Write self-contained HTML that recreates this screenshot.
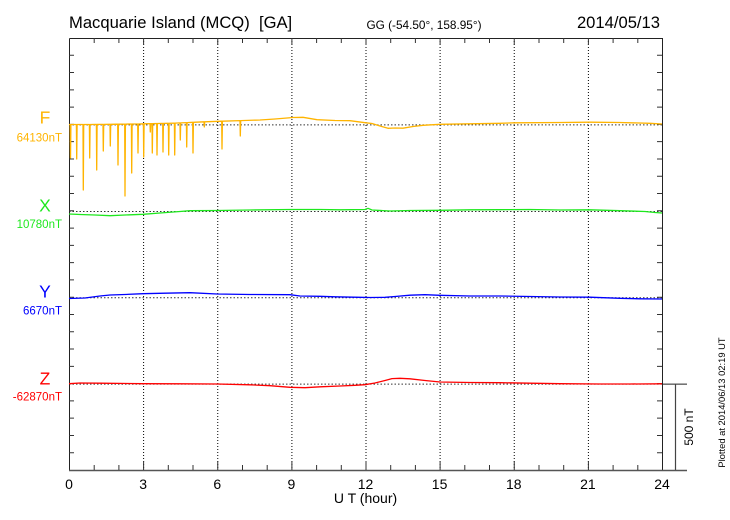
<!DOCTYPE html>
<html><head><meta charset="utf-8"><style>
html,body{margin:0;padding:0;background:#fff;}
svg{display:block;font-family:"Liberation Sans",Arial,sans-serif;}
</style></head><body>
<svg width="730" height="520" viewBox="0 0 730 520" xmlns="http://www.w3.org/2000/svg">
<rect width="730" height="520" fill="#fff"/>
<!-- titles -->
<text x="69" y="28" font-size="16.6" fill="#000">Macquarie Island (MCQ)&#160; [GA]</text>
<text x="424" y="29" font-size="11.8" fill="#000" text-anchor="middle">GG (-54.50°, 158.95°)</text>
<text x="660" y="28" font-size="16.6" fill="#000" text-anchor="end">2014/05/13</text>

<!-- vertical dotted grid -->
<g stroke="#000" stroke-width="1" stroke-dasharray="1,2">
<path d="M143.6,38V470M217.75,38V470M291.9,38V470M366,38V470M440.1,38V470M514.25,38V470M588.4,38V470"/>
</g>
<!-- baseline dotted -->
<g stroke="#333" stroke-width="1" stroke-dasharray="1.5,2">
<path d="M69,124.9H662M69,211.5H662M69,297.7H662M69,384.1H662"/>
</g>

<!-- frame -->
<g stroke="#222" stroke-width="1" fill="none">
<path d="M69.5,38.5H662.5V470.5M69.5,38.5V470.5"/>
</g>
<path d="M69,470.5H687" stroke="#555" stroke-width="1.6"/>
<path d="M662,384.1H687" stroke="#222" stroke-width="1"/>
<path d="M675.5,384V470" stroke="#444" stroke-width="1.2"/>

<!-- y ticks -->
<g stroke="#333" stroke-width="1">
<path d="M69,55.28h5M69,72.56h5M69,89.84h5M69,107.12h5M69,124.4h5M69,141.68h5M69,158.96h5M69,176.24h5M69,193.52h5M69,210.8h5M69,228.08h5M69,245.36h5M69,262.64h5M69,279.92h5M69,297.2h5M69,314.48h5M69,331.76h5M69,349.04h5M69,366.32h5M69,383.6h5M69,400.88h5M69,418.16h5M69,435.44h5M69,452.72h5"/>
<path d="M662,55.28h-5M662,72.56h-5M662,89.84h-5M662,107.12h-5M662,124.4h-5M662,141.68h-5M662,158.96h-5M662,176.24h-5M662,193.52h-5M662,210.8h-5M662,228.08h-5M662,245.36h-5M662,262.64h-5M662,279.92h-5M662,297.2h-5M662,314.48h-5M662,331.76h-5M662,349.04h-5M662,366.32h-5M662,383.6h-5M662,400.88h-5M662,418.16h-5M662,435.44h-5M662,452.72h-5"/>
<!-- top ticks -->
<path d="M94.2,38v5M118.9,38v5M143.6,38v7M168.3,38v5M193,38v5M217.75,38v7M242.5,38v5M267.2,38v5M291.9,38v7M316.6,38v5M341.3,38v5M366,38v7M390.7,38v5M415.4,38v5M440.1,38v7M464.8,38v5M489.5,38v5M514.25,38v7M539,38v5M563.7,38v5M588.4,38v7M613.1,38v5M637.8,38v5"/>
<!-- bottom ticks -->
<path d="M94.2,470v-5M118.9,470v-5M143.6,470v-9M168.3,470v-5M193,470v-5M217.75,470v-9M242.5,470v-5M267.2,470v-5M291.9,470v-9M316.6,470v-5M341.3,470v-5M366,470v-9M390.7,470v-5M415.4,470v-5M440.1,470v-9M464.8,470v-5M489.5,470v-5M514.25,470v-9M539,470v-5M563.7,470v-5M588.4,470v-9M613.1,470v-5M637.8,470v-5"/>
</g>

<!-- x tick labels -->
<g font-size="14" fill="#000" text-anchor="middle">
<text x="69" y="489">0</text>
<text x="143.1" y="489">3</text>
<text x="217.25" y="489">6</text>
<text x="291.4" y="489">9</text>
<text x="365.5" y="489">12</text>
<text x="439.6" y="489">15</text>
<text x="513.75" y="489">18</text>
<text x="587.9" y="489">21</text>
<text x="662" y="489">24</text>
</g>
<text x="365.5" y="503" font-size="14" fill="#000" text-anchor="middle">U T (hour)</text>

<!-- channel labels -->
<g text-anchor="middle" font-size="17.5">
<text x="45" y="123.5" fill="#FFB400">F</text>
<text x="45" y="211.5" fill="#1EE81E">X</text>
<text x="45" y="297.5" fill="#0000FF">Y</text>
<text x="45" y="384.5" fill="#FF0000">Z</text>
</g>
<g text-anchor="end" font-size="11.5">
<text x="62" y="141.5" fill="#FFB400">64130nT</text>
<text x="62" y="228" fill="#1EE81E">10780nT</text>
<text x="62" y="314.5" fill="#0000FF">6670nT</text>
<text x="62" y="400.5" fill="#FF0000">-62870nT</text>
</g>

<!-- F series -->
<path fill="none" stroke="#FFB400" stroke-width="1.3" stroke-linejoin="round" d="M69,124.5 L70.2,124.5 L70.5,158 L70.9,124.5 L76.4,124.5 L76.7,159 L77.1,124.5 L83,124.5 L83.3,190 L83.7,124.5 L89.4,124.5 L89.7,158 L90.1,124.5 L96.4,124.4 L96.7,170 L97.1,124.4 L103,124.4 L103.3,151 L103.7,124.4 L110,124.3 L110.3,146 L110.7,124.3 L117.7,124.2 L118,165 L118.4,124.2 L124.7,124.1 L125,196 L125.4,124.1 L131.4,124 L131.7,173 L132.1,124 L137.7,124 L138,153 L138.4,124 L143.4,123.8 L143.7,157 L144.1,123.8 L150,123.6 L150.3,132 L150.7,123.6 L152,123.6 L152.3,153 L152.7,123.6 L156.7,123.5 L157,155 L157.4,123.5 L162.7,123.4 L163,152 L163.4,123.4 L168.4,123.3 L168.7,155 L169.1,123.3 L174.4,123.1 L174.7,155 L175.1,123.1 L180,122.9 L180.3,140 L180.7,122.9 L186.4,122.6 L186.7,147 L187.1,122.6 L192.7,122.3 L193,153 L193.4,122.3 L204,121.8 L204.3,127 L204.7,121.8 L221.7,121.2 L222,149 L222.4,121.2 L240,120.6 L240.3,136 L240.7,120.6 L260,120 L275,119 L293,117.5 L303,117.3 L317,119.7 L335,120.5 L350,120.7 L365,122.7 L372,123.5 L380,126 L388,128.3 L395,128 L403,128.2 L413,126.5 L423,125.3 L440,124.3 L470,123.8 L500,123.3 L515,122.8 L560,122.5 L590,122.2 L620,122.5 L650,123.3 L662,124"/>

<!-- X series -->
<path fill="none" stroke="#1EE81E" stroke-width="1.3" stroke-linejoin="round" d="M69,214 L80,214.5 L95,215 L110,215.7 L125,215 L143,214.3 L160,213 L180,211.5 L190,210.7 L217,210.5 L250,210 L290,209.5 L320,209.5 L340,209.8 L365,209.5 L368,208.3 L372,210 L390,211 L410,210.5 L440,210.3 L470,209.8 L500,209.7 L530,209.5 L560,210 L590,209.8 L620,210.7 L645,211.5 L655,212.5 L662,213"/>

<!-- Y series -->
<path fill="none" stroke="#0000FF" stroke-width="1.3" stroke-linejoin="round" d="M69,298.5 L85,298 L100,296 L110,295 L125,294.5 L143,293.7 L165,293.2 L190,292.7 L217,294 L250,294.5 L290,294.7 L300,296 L320,296.3 L335,296.8 L360,297.3 L370,297.5 L385,297.3 L395,296.5 L410,295.2 L425,294.7 L440,295.3 L470,296 L500,296 L530,296.5 L560,297 L590,297.2 L620,298.3 L640,298.8 L662,299"/>

<!-- Z series -->
<path fill="none" stroke="#FF0000" stroke-width="1.3" stroke-linejoin="round" d="M69,383.7 L80,383 L100,383.2 L143,383.7 L180,383.8 L217,384 L250,384.8 L270,385.7 L290,387.3 L305,387.7 L320,386.8 L340,386 L355,385.3 L365,384.7 L375,383 L385,380.5 L392,378.6 L400,378.3 L410,378.8 L425,380.5 L440,382 L470,382.5 L500,382.7 L530,383.2 L560,383.7 L600,384 L630,384 L662,383.8"/>

<!-- right side annotations -->
<text x="0" y="0" font-size="12" fill="#000" text-anchor="middle" transform="translate(693,427) rotate(-90)">500 nT</text>
<text x="0" y="0" font-size="9.4" fill="#000" text-anchor="middle" transform="translate(725,402.5) rotate(-90)">Plotted at 2014/06/13 02:19 UT</text>
</svg>
</body></html>
